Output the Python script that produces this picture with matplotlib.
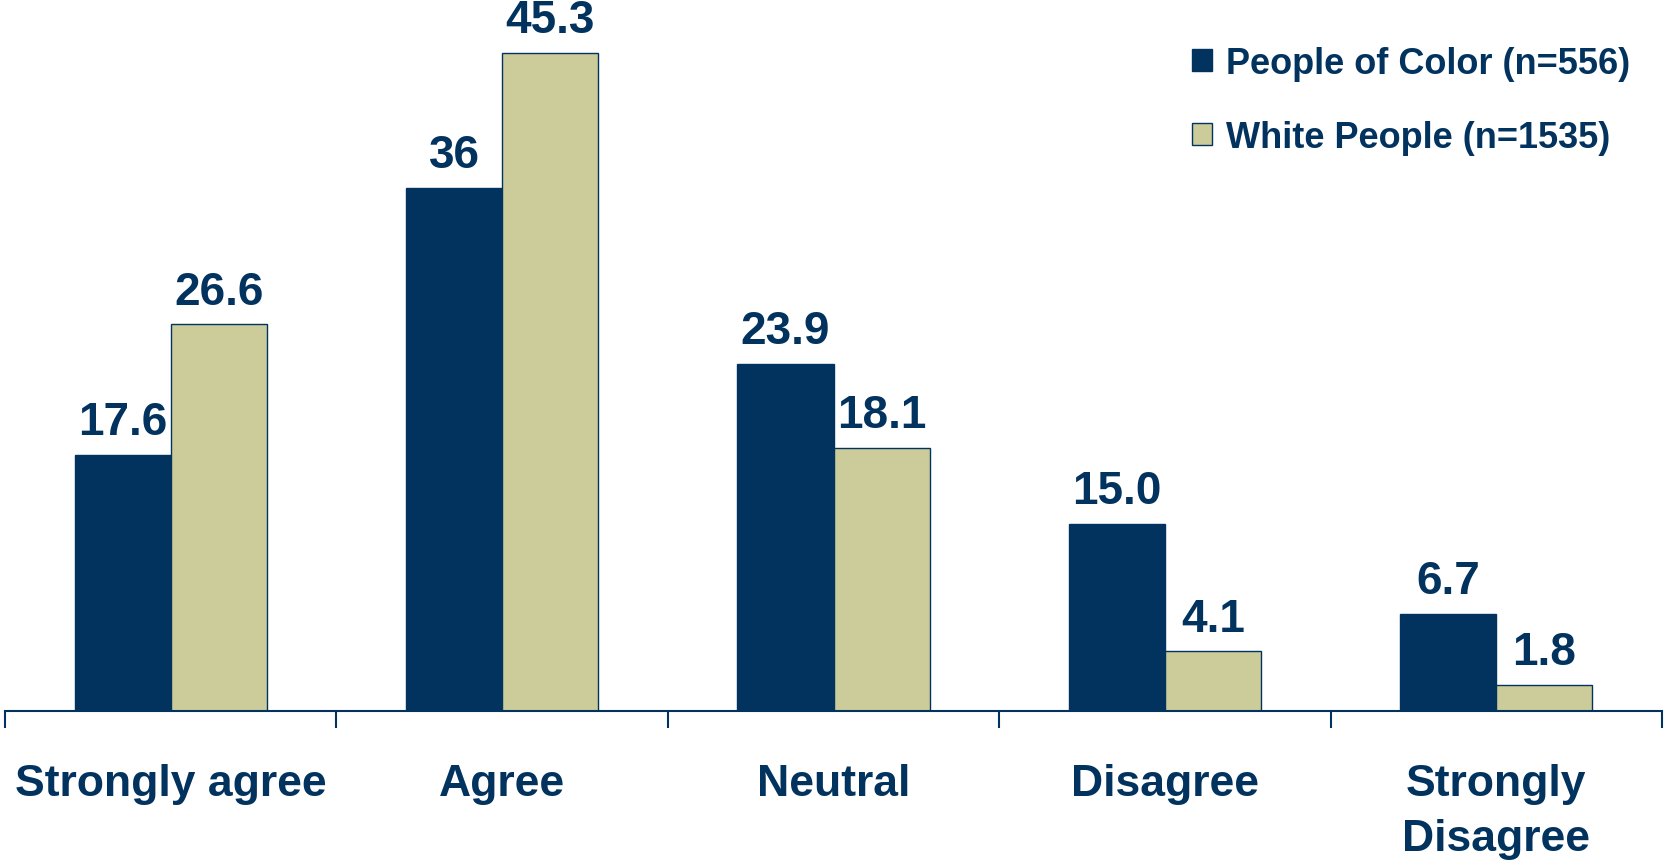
import matplotlib
matplotlib.use("Agg")
import matplotlib.pyplot as plt
import numpy as np

categories = ["Strongly agree", "Agree", "Neutral", "Disagree", "Strongly\nDisagree"]
# bar heights as drawn in the reference (the "15.0" bar is drawn at ~12.9)
people_of_color = [17.6, 36, 23.9, 12.9, 6.7]
white_people = [26.6, 45.3, 18.1, 4.1, 1.8]
poc_labels = ["17.6", "36", "23.9", "15.0", "6.7"]
white_labels = ["26.6", "45.3", "18.1", "4.1", "1.8"]
series_names = ["People of Color (n=556)", "White People (n=1535)"]

NAVY = "#02335F"
BEIGE = "#CCCC9A"

plt.rcParams['font.family'] = ['Liberation Sans', 'DejaVu Sans']
plt.rcParams['font.weight'] = 'bold'

fig = plt.figure(figsize=(16.67, 8.62), dpi=100)
ax = fig.add_axes([5/1667, 150/862, (1662 - 5)/1667, 712/862])

x = np.arange(len(categories)) + 0.5
w = 0.29
b1 = ax.bar(x - w/2, people_of_color, w, color=NAVY, edgecolor=NAVY, linewidth=1, label=series_names[0])
b2 = ax.bar(x + w/2, white_people, w, color=BEIGE, edgecolor=NAVY, linewidth=1, label=series_names[1])

for bars, labs in ((b1, poc_labels), (b2, white_labels)):
    for r, t in zip(bars, labs):
        ax.annotate(t, (r.get_x() + r.get_width()/2, r.get_height()),
                    xytext=(0, 15), textcoords="offset points",
                    ha="center", va="baseline", fontsize=33, fontweight="bold", color=NAVY)

ax.set_xlim(0, len(categories))
ax.set_ylim(0, 49)
for s in ("top", "left", "right"):
    ax.spines[s].set_visible(False)
ax.spines["bottom"].set_color(NAVY)
ax.spines["bottom"].set_linewidth(1.5)
ax.set_yticks([])
ax.set_xticks(x)
ax.set_xticklabels(categories, fontsize=32, fontweight="bold", color=NAVY, va="top", linespacing=1.42)
ax.tick_params(axis="x", which="major", length=0, pad=37.5)
ax.set_xticks(np.arange(len(categories) + 1), minor=True)
ax.tick_params(axis="x", which="minor", length=12.5, width=1.5, color=NAVY, direction="out")

leg = ax.legend(loc="upper left", bbox_to_anchor=(1156/1667, 1.0 - 11/862), bbox_transform=fig.transFigure,
                frameon=False, fontsize=26, handlelength=0.55, handleheight=0.55,
                handletextpad=0.4, labelspacing=1.07, borderaxespad=0.6)
for t in leg.get_texts():
    t.set_color(NAVY)
    t.set_fontweight("bold")

fig.savefig("out.png", dpi=100)
